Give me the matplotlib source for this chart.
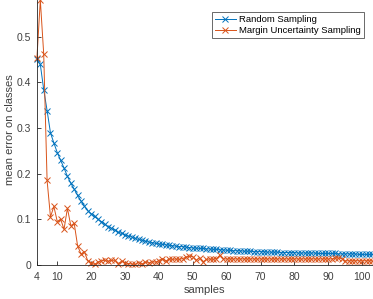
import numpy as np
import matplotlib
matplotlib.use('Agg')
import matplotlib.pyplot as plt

plt.rcParams['font.family'] = ['Liberation Sans', 'DejaVu Sans']

samples = list(range(4, 104))

random_err = [
    0.450, 0.439, 0.384, 0.338, 0.289, 0.267, 0.246, 0.229, 0.212, 0.194,
    0.179, 0.166, 0.152, 0.140, 0.129, 0.119, 0.112, 0.106, 0.100, 0.095,
    0.089, 0.084, 0.080, 0.076, 0.072, 0.069, 0.066, 0.063, 0.061, 0.058,
    0.056, 0.054, 0.052, 0.050, 0.049, 0.047, 0.046, 0.045, 0.044, 0.043,
    0.042, 0.041, 0.040, 0.040, 0.039, 0.038, 0.037, 0.037, 0.036, 0.036,
    0.035, 0.035, 0.034, 0.034, 0.033, 0.033, 0.032, 0.032, 0.031, 0.031,
    0.031, 0.030, 0.030, 0.030, 0.029, 0.029, 0.029, 0.029, 0.028, 0.028,
    0.028, 0.028, 0.027, 0.027, 0.027, 0.027, 0.027, 0.026, 0.026, 0.026,
    0.026, 0.026, 0.026, 0.025, 0.025, 0.025, 0.025, 0.025, 0.025, 0.024,
    0.024, 0.024, 0.024, 0.024, 0.024, 0.023, 0.023, 0.023, 0.023, 0.023,
]

margin_err = [
    0.453, 0.580, 0.462, 0.185, 0.105, 0.128, 0.095, 0.100, 0.078, 0.124,
    0.086, 0.091, 0.042, 0.024, 0.029, 0.009, 0.005, 0.001, 0.006, 0.009,
    0.010, 0.008, 0.010, 0.010, 0.003, 0.008, 0.005, 0.003, 0.002, 0.001,
    0.005, 0.002, 0.006, 0.004, 0.007, 0.006, 0.009, 0.014, 0.008, 0.013,
    0.012, 0.013, 0.012, 0.014, 0.017, 0.019, 0.018, 0.010, 0.016, 0.006,
    0.012, 0.013, 0.012, 0.014, 0.021, 0.013, 0.013, 0.013, 0.013, 0.013,
    0.013, 0.013, 0.013, 0.013, 0.013, 0.013, 0.013, 0.013, 0.013, 0.013,
    0.013, 0.013, 0.013, 0.013, 0.013, 0.013, 0.013, 0.013, 0.013, 0.013,
    0.013, 0.013, 0.013, 0.013, 0.013, 0.013, 0.013, 0.013, 0.015, 0.015,
    0.014, 0.009, 0.009, 0.009, 0.009, 0.009, 0.009, 0.009, 0.009, 0.009,
]

xticks = [4, 10, 20, 30, 40, 50, 60, 70, 80, 90, 100]
yticks = [0, 0.1, 0.2, 0.3, 0.4, 0.5]
ytick_labels = ['0', '0.1', '0.2', '0.3', '0.4', '0.5']

fig = plt.figure(figsize=(3.73, 2.99), dpi=100)
ax = fig.add_axes([0.099, 0.114, 0.901, 0.886])

ax.plot(samples, random_err, color='#0072BD', marker='x', markersize=4,
        linewidth=0.7, markeredgewidth=0.7, label='Random Sampling', clip_on=False)
ax.plot(samples, margin_err, color='#D95319', marker='x', markersize=4,
        linewidth=0.7, markeredgewidth=0.7, label='Margin Uncertainty Sampling', clip_on=False)

ax.set_xlim(4, 103.2)
ax.set_ylim(0, 0.58)
ax.set_xticks(xticks)
ax.set_yticks(yticks)
ax.set_yticklabels(ytick_labels)
ax.tick_params(direction='in', length=3, width=0.6, labelsize=7.5,
               colors='#262626', labelcolor='#404040')
ax.tick_params(axis='x', pad=5)
ax.tick_params(axis='y', pad=4)
for s in ['top', 'right']:
    ax.spines[s].set_visible(False)
for s in ['left', 'bottom']:
    ax.spines[s].set_linewidth(0.6)
    ax.spines[s].set_color('#262626')

ax.set_xlabel('samples', fontsize=8, color='#404040')
ax.set_ylabel('mean error on classes', fontsize=8, color='#404040')
ax.xaxis.set_label_coords(204 / 373, 1 - 290 / 299, transform=fig.transFigure)
ax.yaxis.set_label_coords(10 / 373, 1 - 130 / 299, transform=fig.transFigure)
ax.xaxis.label.set_va('center')
ax.yaxis.label.set_va('center')

leg = ax.legend(loc='upper left', bbox_to_anchor=(212 / 373, 1 - 12 / 299),
                bbox_transform=fig.transFigure, fontsize=6.8, frameon=True,
                fancybox=False, handlelength=2.2, borderpad=0.3,
                labelspacing=0.25, handletextpad=0.4, borderaxespad=0)
leg.get_frame().set_edgecolor('#262626')
leg.get_frame().set_linewidth(0.6)

fig.savefig('out.png', dpi=100)
